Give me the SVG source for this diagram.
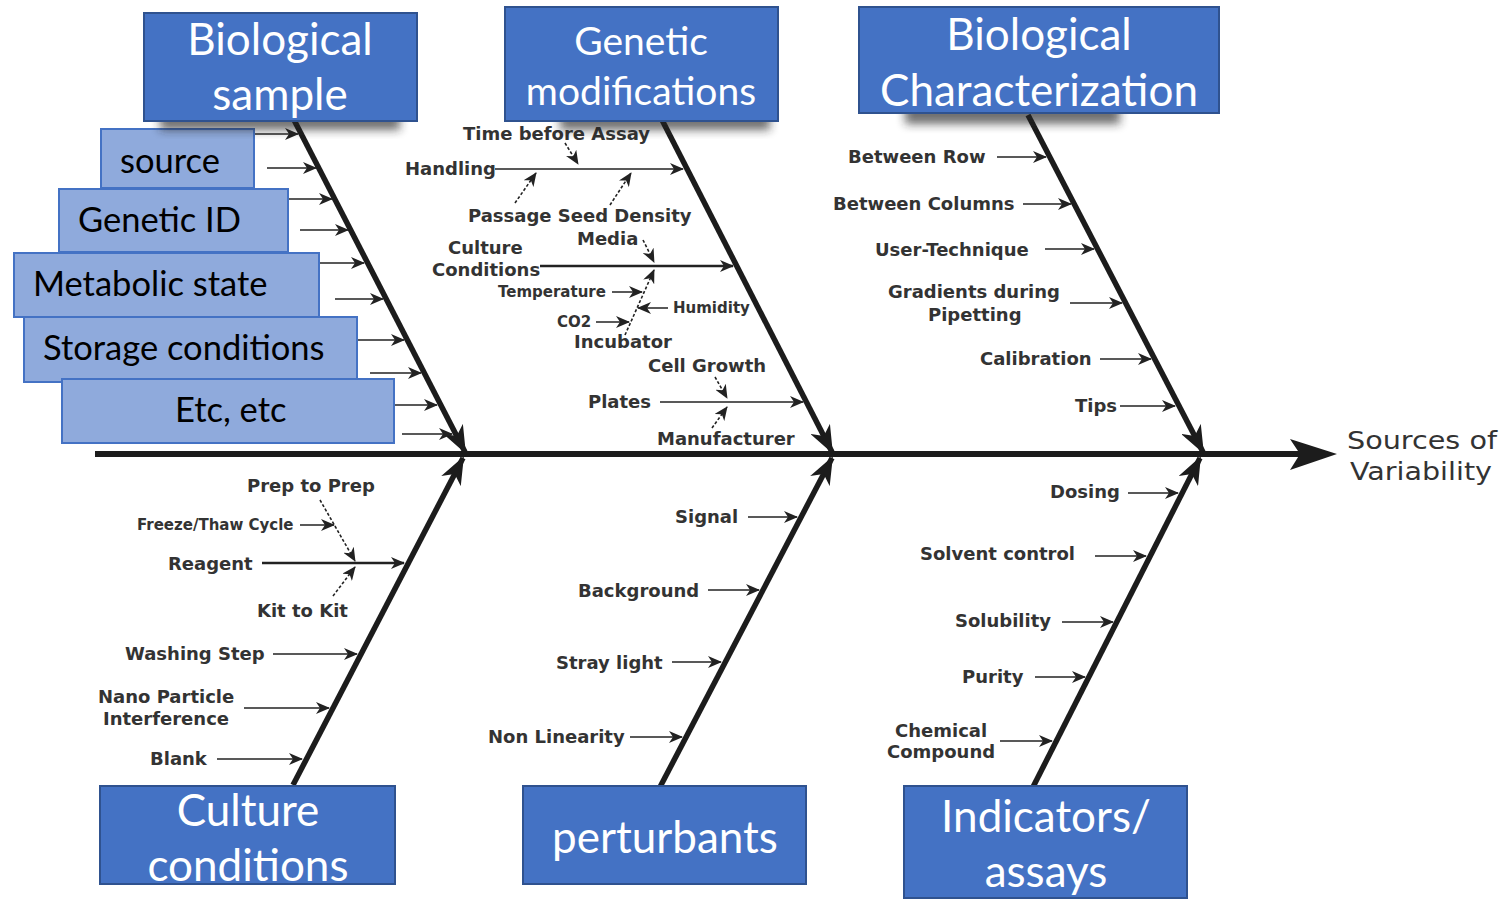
<svg xmlns="http://www.w3.org/2000/svg" width="1507" height="900" viewBox="0 0 1507 900">
<style>
.bone{stroke:#1c1c1c;stroke-width:5.5;fill:none;stroke-linecap:butt}
.f{stroke:#222;stroke-width:1.5;fill:none}
.fb{stroke:#222;stroke-width:2.3;fill:none}
.d{stroke:#222;stroke-width:1.6;fill:none;stroke-dasharray:3,2}
.lb{font-family:"DejaVu Sans",Verdana,sans-serif;font-weight:bold;font-size:18px;fill:#333}
.ls{font-family:"DejaVu Sans",Verdana,sans-serif;font-weight:bold;font-size:15px;fill:#333}
.cat rect{fill:#4472C4;stroke:#2F528F;stroke-width:2}
.cat text{font-family:Lato,"Open Sans",sans-serif;font-size:44px;fill:#fff;text-anchor:middle}
.sub rect{fill:#8FAADC;stroke:#4472C4;stroke-width:2}
.sub text{font-family:Lato,"Open Sans",sans-serif;font-size:34.5px;fill:#000}
</style>
<defs>
<marker id="ah" markerUnits="userSpaceOnUse" markerWidth="14" markerHeight="12" refX="13" refY="6" orient="auto">
<path d="M0,0 L14,6 L0,12 L4,6 z" fill="#222"/>
</marker>
<marker id="big" markerUnits="userSpaceOnUse" markerWidth="28" markerHeight="22" refX="26" refY="11" orient="auto">
<path d="M0,0 L28,11 L0,22 L8,11 z" fill="#1c1c1c"/>
</marker>
<filter id="blur" x="-20%" y="-50%" width="140%" height="200%"><feGaussianBlur stdDeviation="5"/></filter>
</defs>
<rect width="1507" height="900" fill="#fff"/>

<g id="connectors">
<line x1="95" y1="454" x2="1300" y2="454" stroke="#1c1c1c" stroke-width="6"/>
<polygon points="1290,439 1337,454 1290,470 1300,454" fill="#1c1c1c"/>
<line class="bone" x1="293" y1="118" x2="465" y2="452" marker-end="url(#big)"/>
<line class="bone" x1="661" y1="118" x2="832" y2="452" marker-end="url(#big)"/>
<line class="bone" x1="1028" y1="115" x2="1203" y2="452" marker-end="url(#big)"/>
<line class="bone" x1="293" y1="785" x2="463" y2="458" marker-end="url(#big)"/>
<line class="bone" x1="660" y1="787" x2="832" y2="458" marker-end="url(#big)"/>
<line class="bone" x1="1033" y1="787" x2="1200" y2="458" marker-end="url(#big)"/>
<line class="f" x1="253" y1="134" x2="298" y2="134" marker-end="url(#ah)"/>
<line class="f" x1="267" y1="168" x2="316" y2="168" marker-end="url(#ah)"/>
<line class="f" x1="288" y1="199" x2="332" y2="199" marker-end="url(#ah)"/>
<line class="f" x1="300" y1="230" x2="348" y2="230" marker-end="url(#ah)"/>
<line class="f" x1="319" y1="263" x2="364" y2="263" marker-end="url(#ah)"/>
<line class="f" x1="335" y1="299" x2="383" y2="299" marker-end="url(#ah)"/>
<line class="f" x1="357" y1="340" x2="404" y2="340" marker-end="url(#ah)"/>
<line class="f" x1="370" y1="373" x2="421" y2="373" marker-end="url(#ah)"/>
<line class="f" x1="395" y1="405" x2="437" y2="405" marker-end="url(#ah)"/>
<line class="f" x1="402" y1="434" x2="452" y2="434" marker-end="url(#ah)"/>
<line class="f" x1="495" y1="169" x2="683" y2="169" marker-end="url(#ah)"/>
<line class="d" x1="565" y1="143" x2="578" y2="164" marker-end="url(#ah)"/>
<line class="d" x1="515" y1="203" x2="536" y2="173" marker-end="url(#ah)"/>
<line class="d" x1="610" y1="205" x2="631" y2="173" marker-end="url(#ah)"/>
<line class="fb" x1="540" y1="266" x2="733" y2="266" marker-end="url(#ah)"/>
<line class="d" x1="643" y1="240" x2="654" y2="262" marker-end="url(#ah)"/>
<line class="d" x1="625" y1="335" x2="654" y2="270" marker-end="url(#ah)"/>
<line class="f" x1="612" y1="292" x2="642" y2="292" marker-end="url(#ah)"/>
<line class="f" x1="668" y1="308" x2="638" y2="308" marker-end="url(#ah)"/>
<line class="f" x1="596" y1="322" x2="629" y2="322" marker-end="url(#ah)"/>
<line class="f" x1="660" y1="402" x2="803" y2="402" marker-end="url(#ah)"/>
<line class="d" x1="715" y1="377" x2="727" y2="398" marker-end="url(#ah)"/>
<line class="d" x1="712" y1="428" x2="727" y2="407" marker-end="url(#ah)"/>
<line class="f" x1="997" y1="157" x2="1046" y2="157" marker-end="url(#ah)"/>
<line class="f" x1="1023" y1="204" x2="1071" y2="204" marker-end="url(#ah)"/>
<line class="f" x1="1045" y1="249" x2="1094" y2="249" marker-end="url(#ah)"/>
<line class="f" x1="1070" y1="303" x2="1122" y2="303" marker-end="url(#ah)"/>
<line class="f" x1="1100" y1="359" x2="1151" y2="359" marker-end="url(#ah)"/>
<line class="f" x1="1120" y1="406" x2="1175" y2="406" marker-end="url(#ah)"/>
<line class="d" x1="320" y1="500" x2="355" y2="561" marker-end="url(#ah)"/>
<line class="f" x1="300" y1="525" x2="334" y2="525" marker-end="url(#ah)"/>
<line class="fb" x1="262" y1="563" x2="404" y2="563" marker-end="url(#ah)"/>
<line class="d" x1="333" y1="596" x2="355" y2="567" marker-end="url(#ah)"/>
<line class="f" x1="273" y1="654" x2="357" y2="654" marker-end="url(#ah)"/>
<line class="f" x1="244" y1="708" x2="329" y2="708" marker-end="url(#ah)"/>
<line class="f" x1="217" y1="759" x2="302" y2="759" marker-end="url(#ah)"/>
<line class="f" x1="748" y1="517" x2="797" y2="517" marker-end="url(#ah)"/>
<line class="f" x1="708" y1="590" x2="759" y2="590" marker-end="url(#ah)"/>
<line class="f" x1="672" y1="662" x2="721" y2="662" marker-end="url(#ah)"/>
<line class="f" x1="630" y1="737" x2="682" y2="737" marker-end="url(#ah)"/>
<line class="f" x1="1128" y1="493" x2="1178" y2="493" marker-end="url(#ah)"/>
<line class="f" x1="1095" y1="556" x2="1146" y2="556" marker-end="url(#ah)"/>
<line class="f" x1="1062" y1="622" x2="1113" y2="622" marker-end="url(#ah)"/>
<line class="f" x1="1035" y1="677" x2="1085" y2="677" marker-end="url(#ah)"/>
<line class="f" x1="1000" y1="741" x2="1052" y2="741" marker-end="url(#ah)"/>
</g>

<g id="causes">
<text class="lb" x="463" y="140">Time before Assay</text>
<text class="lb" x="405" y="175">Handling</text>
<text class="lb" x="468" y="222">Passage Seed Density</text>
<text class="lb" x="577" y="245">Media</text>
<text class="lb" x="448" y="254">Culture</text>
<text class="lb" x="432" y="276">Conditions</text>
<text class="ls" x="498" y="297">Temperature</text>
<text class="ls" x="673" y="313">Humidity</text>
<text class="ls" x="557" y="327">CO2</text>
<text class="lb" x="574" y="348">Incubator</text>
<text class="lb" x="648" y="372">Cell Growth</text>
<text class="lb" x="588" y="408">Plates</text>
<text class="lb" x="657" y="445">Manufacturer</text>
<text class="lb" x="848" y="163">Between Row</text>
<text class="lb" x="833" y="210">Between Columns</text>
<text class="lb" x="875" y="256">User-Technique</text>
<text class="lb" x="888" y="298">Gradients during</text>
<text class="lb" x="928" y="321">Pipetting</text>
<text class="lb" x="980" y="365">Calibration</text>
<text class="lb" x="1075" y="412">Tips</text>
<text class="lb" x="247" y="492">Prep to Prep</text>
<text class="ls" x="137" y="530">Freeze/Thaw Cycle</text>
<text class="lb" x="168" y="570">Reagent</text>
<text class="lb" x="257" y="617">Kit to Kit</text>
<text class="lb" x="125" y="660">Washing Step</text>
<text class="lb" x="98" y="703">Nano Particle</text>
<text class="lb" x="103" y="725">Interference</text>
<text class="lb" x="150" y="765">Blank</text>
<text class="lb" x="675" y="523">Signal</text>
<text class="lb" x="578" y="597">Background</text>
<text class="lb" x="556" y="669">Stray light</text>
<text class="lb" x="488" y="743">Non Linearity</text>
<text class="lb" x="1050" y="498">Dosing</text>
<text class="lb" x="920" y="560">Solvent control</text>
<text class="lb" x="955" y="627">Solubility</text>
<text class="lb" x="962" y="683">Purity</text>
<text class="lb" x="895" y="737">Chemical</text>
<text class="lb" x="887" y="758">Compound</text>
</g>

<g id="effect">
<text x="1347" y="449" font-family="DejaVu Sans,Verdana,sans-serif" font-size="24" fill="#333" textLength="150" lengthAdjust="spacingAndGlyphs">Sources of</text>
<text x="1350" y="480" font-family="DejaVu Sans,Verdana,sans-serif" font-size="24" fill="#333" textLength="142" lengthAdjust="spacingAndGlyphs">Variability</text>
</g>

<g id="sub-source" class="sub"><rect x="101" y="129" width="153" height="59"/><text x="120" y="173">source</text></g>
<g id="sub-genetic-id" class="sub"><rect x="59" y="189" width="229" height="63"/><text x="78" y="232">Genetic ID</text></g>
<g id="sub-metabolic" class="sub"><rect x="14" y="253" width="305" height="64"/><text x="33" y="296">Metabolic state</text></g>
<g id="sub-storage" class="sub"><rect x="24" y="317" width="333" height="65"/><text x="43" y="360">Storage conditions</text></g>
<g id="sub-etc" class="sub"><rect x="62" y="379" width="332" height="64"/><text x="175" y="422">Etc, etc</text></g>

<g id="cat-biological-sample" class="cat">
<rect x="160" y="112" width="240" height="18" filter="url(#blur)" style="fill:#222;stroke:none;opacity:.65"/>
<rect x="144" y="13" width="273" height="108"/>
<text x="280" y="55">Biological</text><text x="280" y="110">sample</text>
</g>
<g id="cat-genetic-modifications" class="cat">
<rect x="560" y="112" width="210" height="18" filter="url(#blur)" style="fill:#222;stroke:none;opacity:.65"/>
<rect x="505" y="7" width="273" height="114"/>
<text x="641" y="55" style="font-size:39px">Genetic</text><text x="641" y="105" style="font-size:39px">modifications</text>
</g>
<g id="cat-biological-characterization" class="cat">
<rect x="905" y="104" width="215" height="20" filter="url(#blur)" style="fill:#222;stroke:none;opacity:.65"/>
<rect x="859" y="7" width="360" height="106"/>
<text x="1039" y="50">Biological</text><text x="1039" y="106">Characterization</text>
</g>
<g id="cat-culture-conditions" class="cat">
<rect x="100" y="786" width="295" height="98"/>
<text x="248" y="826">Culture</text><text x="248" y="881">conditions</text>
</g>
<g id="cat-perturbants" class="cat">
<rect x="523" y="786" width="283" height="98"/>
<text x="665" y="853">perturbants</text>
</g>
<g id="cat-indicators" class="cat">
<rect x="904" y="786" width="283" height="112"/>
<text x="1046" y="832">Indicators/</text><text x="1046" y="887">assays</text>
</g>
</svg>
